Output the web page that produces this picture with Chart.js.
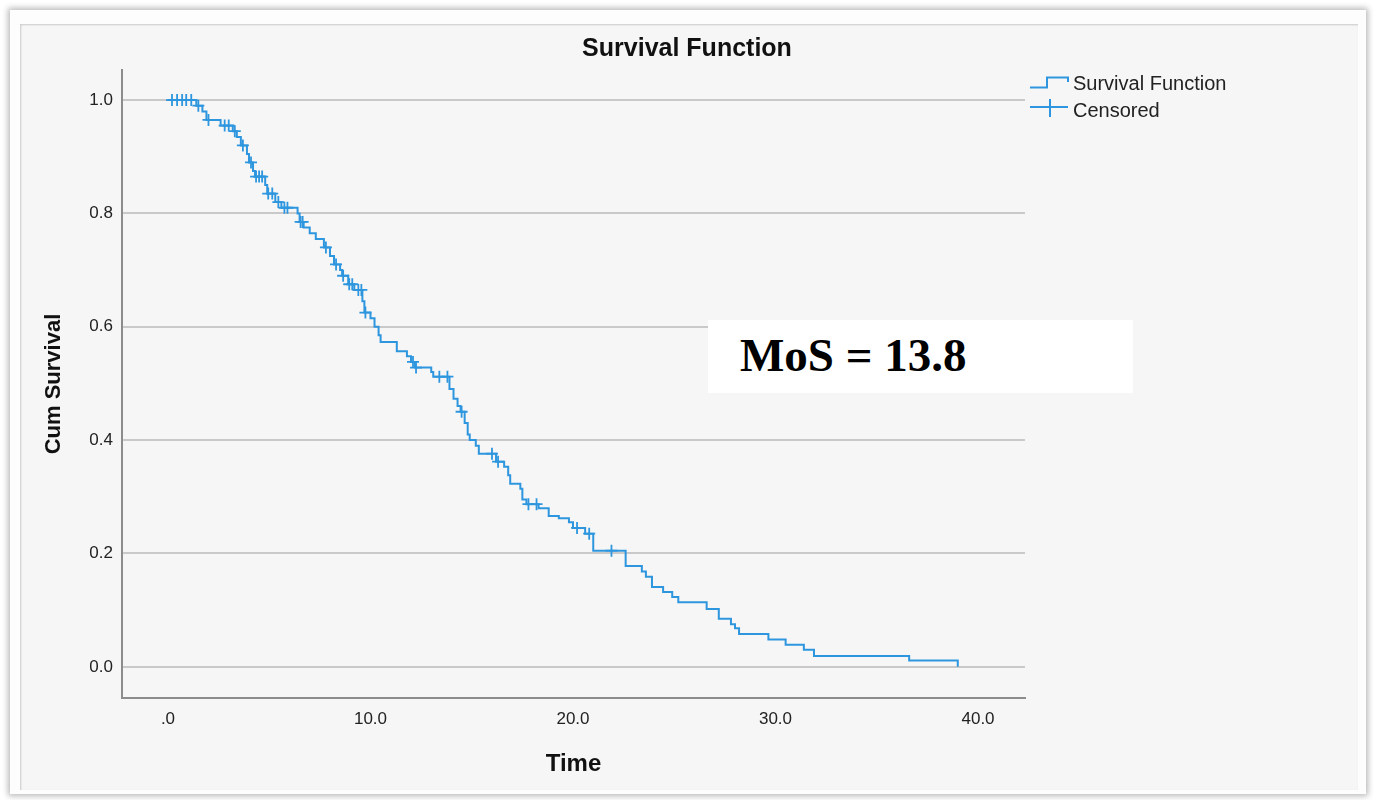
<!DOCTYPE html>
<html>
<head>
<meta charset="utf-8">
<script src="https://cdn.jsdelivr.net/npm/chart.js@4.4.1/dist/chart.umd.min.js"></script>
<style>
  html, body { margin:0; padding:0; background:#ffffff; }
  body { width:1374px; height:800px; position:relative; overflow:hidden; font-family:"Liberation Sans", Arial, sans-serif; }
  #frame { position:absolute; left:10px; top:10px; width:1356px; height:784px; box-sizing:border-box;
           background:#f6f6f6; border-top:14px solid #fdfdfd; border-left:10px solid #fdfdfd; border-right:8px solid #fdfdfd; border-bottom:4px solid #fdfdfd;
           box-shadow: 0 0 6px 2px rgba(0,0,0,0.28), inset 1px 1px 2px rgba(0,0,0,0.18); }
  #c { position:absolute; left:0; top:0; }
  #title { position:absolute; left:0; width:1374px; top:33px; text-align:center; font-weight:bold; font-size:25px; color:#111; }
  .leg { position:absolute; left:1030px; font-size:20px; color:#222; height:24px; }
  .leg svg { position:absolute; left:0; top:0; }
  .leg span { position:absolute; left:43px; top:0; white-space:nowrap; line-height:24px; }
  #mos { position:absolute; left:708px; top:320px; width:425px; height:73px; background:#ffffff; }
  #mos span { position:absolute; left:32px; top:8px; font-family:"Liberation Serif","Times New Roman",serif; font-weight:bold; font-size:47px; color:#000; }
</style>
</head>
<body>
<div id="frame"></div>
<canvas id="c" width="1374" height="800"></canvas>
<div id="title">Survival Function</div>
<div class="leg" style="top:71px;">
  <svg width="42" height="24"><polyline points="0,16.5 17,16.5 17,6.5 38,6.5 38,11" fill="none" stroke="#2e96de" stroke-width="2"/></svg>
  <span>Survival Function</span>
</div>
<div class="leg" style="top:98px;">
  <svg width="42" height="24"><line x1="0" y1="9" x2="38" y2="9" stroke="#2e96de" stroke-width="2"/><line x1="20" y1="1" x2="20" y2="19" stroke="#2e96de" stroke-width="2"/></svg>
  <span>Censored</span>
</div>
<div id="mos"><span>MoS = 13.8</span></div>
<script>
// ---- data ----
const eventTimes = [0, 1.4, 1.7, 1.9, 2.6, 3.2, 3.4, 3.6, 3.9, 4.0, 4.2, 4.3, 4.8, 4.9, 5.3, 5.6, 6.4, 6.5, 6.7, 7.0, 7.3, 7.7, 8.0, 8.2, 8.5, 8.6, 8.9, 9.2, 9.6, 9.7, 10.0, 10.2, 10.4, 10.5, 11.3, 11.8, 12.0, 12.2, 13.0, 13.1, 13.9, 14.1, 14.3, 14.45, 14.65, 14.8, 14.9, 15.2, 15.35, 16.2, 16.6, 16.8, 16.9, 17.4, 17.5, 17.7, 18.3, 18.8, 19.3, 19.8, 20.0, 20.6, 21.0, 22.6, 23.4, 23.6, 23.9, 24.45, 24.9, 25.2, 26.6, 27.2, 27.8, 28.0, 28.2, 29.65, 30.5, 31.4, 31.9, 36.6, 39.0];
const survival   = [1.0, 0.99, 0.98, 0.965, 0.955, 0.945, 0.935, 0.92, 0.905, 0.89, 0.875, 0.865, 0.85, 0.835, 0.82, 0.81, 0.80, 0.785, 0.775, 0.765, 0.755, 0.74, 0.725, 0.71, 0.70, 0.69, 0.675, 0.665, 0.645, 0.625, 0.615, 0.60, 0.585, 0.573, 0.557, 0.548, 0.538, 0.528, 0.52, 0.512, 0.49, 0.473, 0.46, 0.45, 0.43, 0.41, 0.40, 0.39, 0.376, 0.362, 0.353, 0.338, 0.323, 0.314, 0.295, 0.287, 0.28, 0.266, 0.262, 0.255, 0.245, 0.235, 0.205, 0.178, 0.168, 0.159, 0.141, 0.132, 0.123, 0.114, 0.102, 0.085, 0.075, 0.068, 0.058, 0.048, 0.039, 0.030, 0.019, 0.011, 0.0];
const censorTimes = [0.2, 0.45, 0.7, 0.9, 1.15, 1.5, 2.0, 2.8, 3.0, 3.3, 3.7, 4.1, 4.35, 4.5, 4.65, 4.95, 5.15, 5.45, 5.75, 5.9, 6.55, 6.65, 7.8, 8.3, 8.65, 8.95, 9.1, 9.4, 9.55, 9.75, 12.1, 12.25, 13.4, 13.8, 14.5, 16.0, 16.3, 17.8, 18.2, 20.2, 20.8, 21.9];
const xTickValues = [0, 10, 20, 30, 40];
const xTickLabels = [".0", "10.0", "20.0", "30.0", "40.0"];
const yTickValues = [0, 0.2, 0.4, 0.6, 0.8, 1.0];
const yTickLabels = ["0.0", "0.2", "0.4", "0.6", "0.8", "1.0"];

function survivalAt(t) {
  let s = survival[0];
  for (let i = 0; i < eventTimes.length; i++) { if (eventTimes[i] <= t) s = survival[i]; else break; }
  return s;
}

const blue = '#2e96de';
const stepData = eventTimes.map((t, i) => ({ x: t, y: survival[i] }));
const censorData = censorTimes.map(t => ({ x: t, y: survivalAt(t) }));

new Chart(document.getElementById('c'), {
  type: 'scatter',
  data: {
    datasets: [
      { label: 'Survival Function', data: stepData, showLine: true, stepped: 'before',
        borderColor: blue, borderWidth: 2, pointRadius: 0, fill: false },
      { label: 'Censored', data: censorData, showLine: false, pointStyle: 'cross',
        pointRadius: 6, borderColor: blue, backgroundColor: blue, borderWidth: 1.8 }
    ]
  },
  options: {
    responsive: false,
    animation: false,
    events: [],
    layout: { padding: { left: 0, right: 349, top: 70, bottom: 0 } },
    plugins: { legend: { display: false }, title: { display: false }, tooltip: { enabled: false } },
    scales: {
      x: {
        type: 'linear', min: -2.27, max: 42.32,
        afterFit: s => { s.height = 102; },
        afterBuildTicks: s => { s.ticks = xTickValues.map(v => ({ value: v })); },
        grid: { display: false, drawTicks: false },
        border: { display: true, color: '#8c8c8c', width: 2 },
        ticks: { padding: 11, color: '#222', font: { family: 'Liberation Sans', size: 17 },
                 callback: (v) => xTickLabels[xTickValues.indexOf(v)] },
        title: { display: true, text: 'Time', color: '#111', padding: { top: 0, bottom: 21 },
                 font: { family: 'Liberation Sans', size: 24, weight: 'bold' } }
      },
      y: {
        type: 'linear', min: -0.055, max: 1.053,
        afterFit: s => { s.width = 122; },
        afterBuildTicks: s => { s.ticks = yTickValues.map(v => ({ value: v })); },
        grid: { color: '#c9c9c9', lineWidth: 2, drawTicks: false },
        border: { display: true, color: '#8c8c8c', width: 2 },
        ticks: { padding: 9, color: '#222', font: { family: 'Liberation Sans', size: 17 },
                 callback: (v) => yTickLabels[yTickValues.indexOf(v)] },
        title: { display: true, text: 'Cum Survival', color: '#111', padding: { top: 41, bottom: 0 },
                 font: { family: 'Liberation Sans', size: 22, weight: 'bold' } }
      }
    }
  }
});
</script>
</body>
</html>
